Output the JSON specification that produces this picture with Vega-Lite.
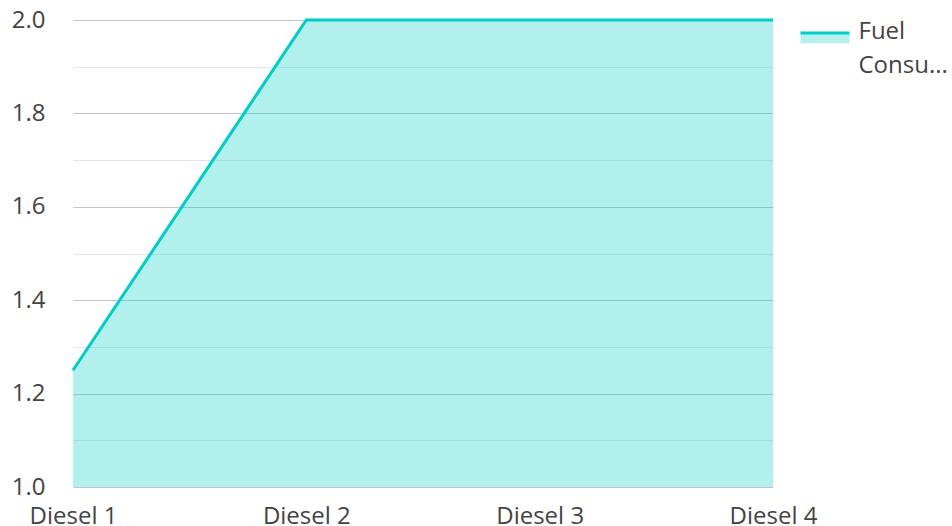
{
  "$schema": "https://vega.github.io/schema/vega-lite/v6.json",
  "width": 700,
  "height": 467,
  "padding": {"left": 11, "top": 8, "right": 0, "bottom": 0},
  "background": "white",
  "config": {
    "font": "Open Sans",
    "view": {"stroke": null},
    "axis": {"labelFont": "Open Sans", "labelFontSize": 24, "labelColor": "#444444"}
  },
  "data": {
    "values": [
      {"generator": "Diesel 1", "consumption": 1.25, "series": "Fuel Consumption"},
      {"generator": "Diesel 2", "consumption": 2.0, "series": "Fuel Consumption"},
      {"generator": "Diesel 3", "consumption": 2.0, "series": "Fuel Consumption"},
      {"generator": "Diesel 4", "consumption": 2.0, "series": "Fuel Consumption"}
    ]
  },
  "encoding": {
    "x": {
      "field": "generator",
      "type": "ordinal",
      "scale": {"type": "point", "padding": 0},
      "axis": {"title": null, "labelAngle": 0, "domain": false, "ticks": false, "labelPadding": 17, "grid": false}
    },
    "y": {
      "field": "consumption",
      "type": "quantitative",
      "scale": {"domain": [1, 2], "nice": false, "zero": false},
      "axis": {
        "title": null,
        "domain": false,
        "ticks": false,
        "labelPadding": 28,
        "values": [1, 1.1, 1.2, 1.3, 1.4, 1.5, 1.6, 1.7, 1.8, 1.9, 2.0],
        "labelExpr": "round(datum.value*10)%2==0 ? format(datum.value,'.1f') : ''",
        "grid": true,
        "gridColor": {"condition": {"test": "round(datum.value*10)%2==0", "value": "#c4c4c4"}, "value": "#e6e6e6"},
        "gridWidth": 1.2
      }
    }
  },
  "layer": [
    {
      "mark": {"type": "area", "color": "#00ccc8", "opacity": 0.3},
      "encoding": {"y2": {"datum": 1}}
    },
    {
      "mark": {"type": "line", "strokeWidth": 3},
      "encoding": {
        "color": {
          "field": "series",
          "type": "nominal",
          "scale": {"range": ["#00ccc8"]},
          "legend": {
            "title": null,
            "orient": "right",
            "offset": 33.5,
            "padding": 0,
            "symbolType": "M-2.45,0.1 H2.45 V1.1 H-2.45 Z",
            "symbolSize": 400,
            "symbolFillColor": "#b3f0ee",
            "symbolStrokeColor": "#00ccc8",
            "symbolStrokeWidth": 3,
            "symbolDash": [49, 100],
            "symbolOpacity": 1,
            "labelFont": "Open Sans",
            "labelFontSize": 24,
            "labelColor": "#444444",
            "labelExpr": "['Fuel', 'Consu...']",
            "labelBaseline": "middle",
            "labelOffset": 21.5,
            "labelLimit": 200,
            "encode": {"labels": {"update": {"lineHeight": {"value": 34}}}}
          }
        }
      }
    }
  ]
}
